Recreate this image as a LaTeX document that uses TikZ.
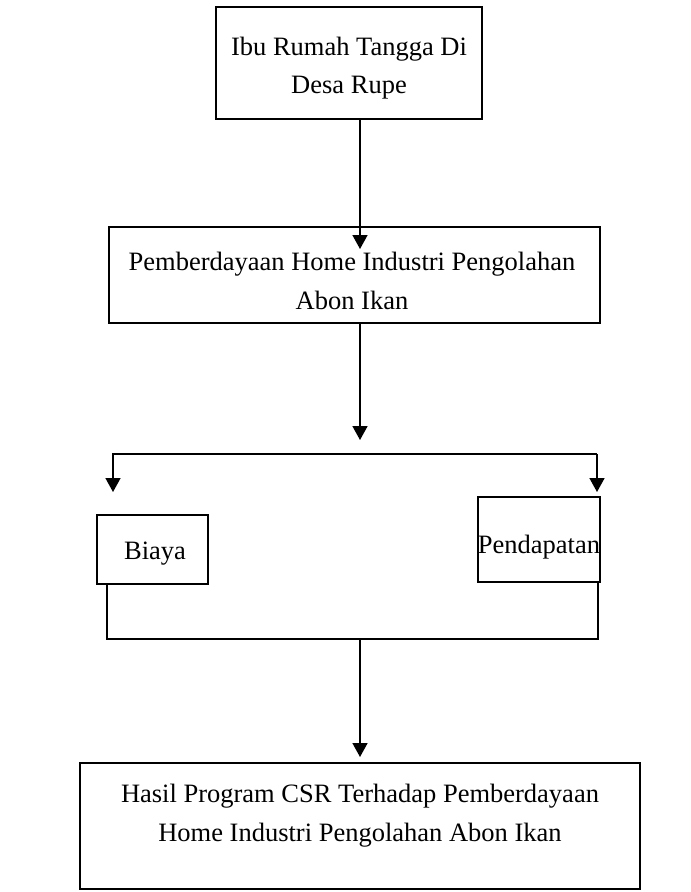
\documentclass[tikz,border=0pt]{standalone}
\usepackage{fontspec}
\setmainfont{Liberation Serif}
\usetikzlibrary{arrows.meta,calc}
\tikzset{
  box/.style={draw=black, line width=1.6pt, rectangle, inner sep=0pt},
  txt/.style={inner sep=0pt, align=center, font=\fontsize{26.5}{38.5}\selectfont},
  arr/.style={line width=1.6pt, -{Triangle[width=15pt,length=14pt]}},
  ln/.style={line width=1.6pt},
}
\begin{document}
\begin{tikzpicture}[x=1pt,y=-1pt]
\useasboundingbox (0,0) rectangle (691,892);
% boxes
\node[box, minimum width=266pt, minimum height=112pt] (b1) at (349,63) {};
\node[txt] (b1t) at (349,68) {Ibu Rumah Tangga Di\\Desa Rupe};
\node[box, minimum width=491pt, minimum height=96pt] (b2) at (354.5,275) {};
\node[txt] (b2t) at (352,281) {Pemberdayaan Home Industri Pengolahan\\Abon Ikan};
\node[box, minimum width=111pt, minimum height=69pt] (bia) at (152.5,549.5) {};
\node[txt] (biat) at (155,553.5) {Biaya};
\node[box, minimum width=122pt, minimum height=85pt] (pen) at (539,539.5) {};
\node[txt] (pent) at (539,547) {Pendapatan};
\node[box, minimum width=560pt, minimum height=126pt] (b3) at (360,826) {};
\node[txt, anchor=north] (b3t) at ([yshift=-22pt]b3.north) {Hasil Program CSR Terhadap Pemberdayaan\\Home Industri Pengolahan Abon Ikan};
% coordinates
\coordinate (t1) at (360,249);
\coordinate (t2) at (360,440);
\coordinate (bar) at (360,454);
\coordinate (tl) at (113,492);
\coordinate (tr) at (597,492);
\coordinate (jl) at (107,639);
\coordinate (jr) at (598,639);
\coordinate (jm) at (360,639);
\coordinate (t3) at (360,757);
% connectors
\draw[arr] (b1.south -| t1) -- (t1);
\draw[arr] (b2.south -| t2) -- (t2);
\draw[arr] (tr |- bar) -- (tl |- bar) -- (tl);
\draw[arr] (tr |- bar) -- (tr);
\draw[ln] (bia.south -| jl) -- (jl) -- (jr) -- (pen.south -| jr);
\draw[arr] (jm) -- (t3);
\end{tikzpicture}
\end{document}
